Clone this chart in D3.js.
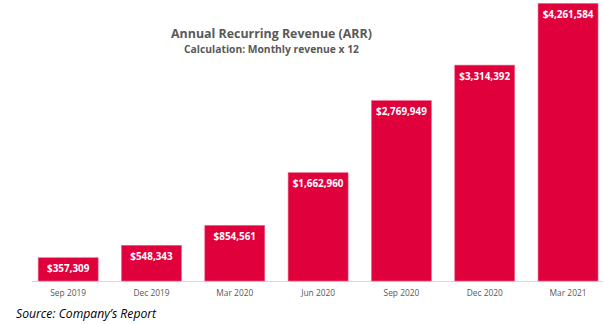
<!DOCTYPE html>
<html>
<head>
<meta charset="utf-8">
<script src="https://cdn.jsdelivr.net/npm/d3@7"></script>
<style>
  body { margin: 0; background: #fff; }
  svg { display: block; }
</style>
</head>
<body>
<script>
// data
var quarters = ["Sep 2019", "Dec 2019", "Mar 2020", "Jun 2020", "Sep 2020", "Dec 2020", "Mar 2021"];
var arr = [357309, 548343, 854561, 1662960, 2769949, 3314392, 4261584];
var title = "Annual Recurring Revenue (ARR)";
var subtitle = "Calculation: Monthly revenue x 12";
var source = "Source: Company\u2019s Report";

var width = 604, height = 324;
var baseY = 281;

var svg = d3.select("body").append("svg")
  .attr("width", width)
  .attr("height", height);

var x = d3.scaleBand()
  .domain(quarters)
  .range([26.5, 609.7])
  .paddingInner(0.28)
  .paddingOuter(0.14);

var y = d3.scaleLinear()
  .domain([0, 4261584])
  .range([baseY, 3.4]);

var fmt = d3.format("$,");

// baseline
svg.append("line")
  .attr("x1", 32).attr("x2", 603)
  .attr("y1", baseY + 0.5).attr("y2", baseY + 0.5)
  .attr("stroke", "#d9d9d9")
  .attr("stroke-width", 1);

// bars
svg.selectAll("rect.bar")
  .data(arr)
  .enter().append("rect")
  .attr("class", "bar")
  .attr("x", function(d, i) { return x(quarters[i]); })
  .attr("y", function(d) { return y(d); })
  .attr("width", x.bandwidth())
  .attr("height", function(d) { return baseY - y(d); })
  .attr("fill", "#e0003c")
  .attr("stroke", "#f06a8c")
  .attr("stroke-width", 0.6);

// value labels inside bars
svg.selectAll("text.val")
  .data(arr)
  .enter().append("text")
  .attr("class", "val")
  .attr("x", function(d, i) { return x(quarters[i]) + x.bandwidth() / 2; })
  .attr("y", function(d) { return y(d) + 14.5; })
  .attr("text-anchor", "middle")
  .attr("font-family", "'Open Sans', sans-serif")
  .attr("font-weight", "bold")
  .attr("font-size", "9.9px")
  .attr("fill", "#fff")
  .text(function(d) { return fmt(d); });

// x axis labels
var xAxis = d3.axisBottom(x).tickSize(0).tickPadding(0);
var gx = svg.append("g")
  .attr("transform", "translate(0," + (baseY + 14.5) + ")")
  .call(xAxis);
gx.select(".domain").remove();
gx.selectAll("text")
  .attr("dy", 0)
  .attr("font-family", "'Open Sans', sans-serif")
  .attr("font-size", "8.4px")
  .attr("fill", "#595959");

// titles
svg.append("text")
  .attr("x", 271.5).attr("y", 38)
  .attr("text-anchor", "middle")
  .attr("font-family", "'Open Sans', sans-serif")
  .attr("font-weight", "bold")
  .attr("font-size", "12.4px")
  .attr("fill", "#595959")
  .text(title);

svg.append("text")
  .attr("x", 271.5).attr("y", 53)
  .attr("text-anchor", "middle")
  .attr("font-family", "'Open Sans', sans-serif")
  .attr("font-weight", "bold")
  .attr("font-size", "10.3px")
  .attr("fill", "#595959")
  .text(subtitle);

// source note
svg.append("text")
  .attr("x", 16).attr("y", 318)
  .attr("font-family", "'Open Sans', sans-serif")
  .attr("font-style", "italic")
  .attr("font-size", "12.2px")
  .attr("fill", "#000")
  .text(source);
</script>
</body>
</html>
